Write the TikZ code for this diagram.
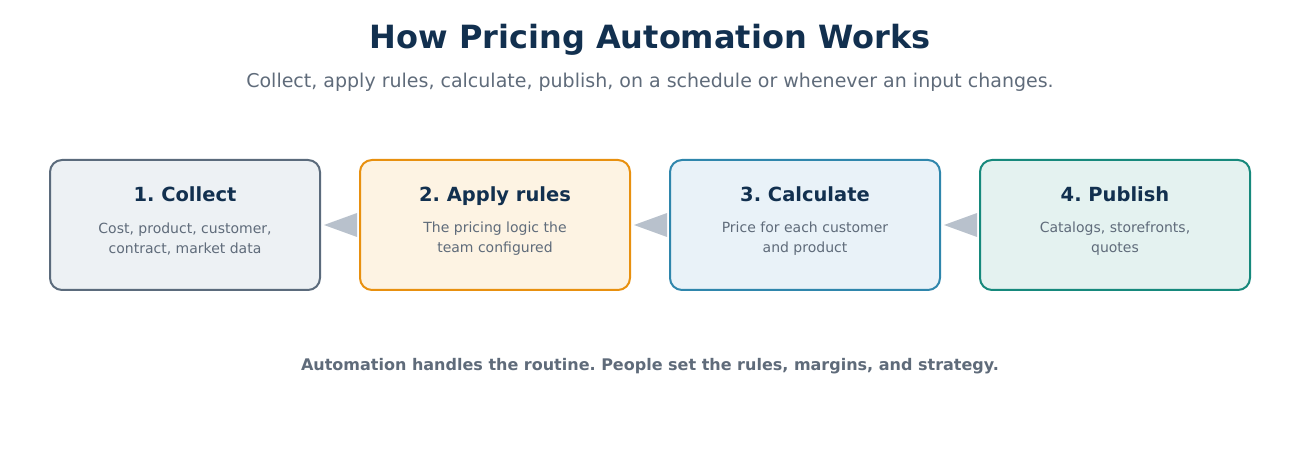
\documentclass[tikz,border=0pt]{standalone}
\usepackage{fontspec}
\setmainfont{DejaVu Sans}
\frenchspacing
\usetikzlibrary{calc}
\definecolor{navy}{HTML}{12304F}
\definecolor{slate}{HTML}{5F6B7A}
\definecolor{arrowgray}{HTML}{B8C1CC}
\definecolor{grayline}{HTML}{5B6B7C}
\definecolor{grayfill}{HTML}{EDF1F4}
\definecolor{orangeline}{HTML}{E8900F}
\definecolor{orangefill}{HTML}{FDF3E3}
\definecolor{blueline}{HTML}{2F86AC}
\definecolor{bluefill}{HTML}{E9F2F8}
\definecolor{tealline}{HTML}{16897C}
\definecolor{tealfill}{HTML}{E4F2F0}
\tikzset{
  stepbox/.style={draw, line width=1.5pt, rounded corners=9pt, minimum width=202.5pt, minimum height=97.5pt, inner sep=0pt},
  stephead/.style={anchor=base, text=navy, font=\fontsize{14.6}{18}\selectfont\bfseries},
  steptext/.style={text=slate, align=center, font=\fontsize{10.5}{15}\selectfont},
}
\begin{document}
\begin{tikzpicture}[x=0.75pt,y=0.75pt,yscale=-1,xscale=1]
            \useasboundingbox (0,0) rectangle (1300,470);
            \node[text=navy, font=\fontsize{24}{28}\selectfont\bfseries] (title) at (650,40) {How Pricing Automation Works};
            \node[text=slate, font=\fontsize{14.25}{17}\selectfont] (subtitle) at (650,82) {Collect, apply rules, calculate, publish, on a schedule or whenever an input changes.};
            \node[stepbox, draw=grayline, fill=grayfill] (collect) at (185,225) {};
            \node[stepbox, draw=orangeline, fill=orangefill] (rules) at (495,225) {};
            \node[stepbox, draw=blueline, fill=bluefill] (calc) at (805,225) {};
            \node[stepbox, draw=tealline, fill=tealfill] (publish) at (1115,225) {};
            \node[stephead] (collecth) at (185,201.5) {1. Collect};
            \node[steptext] (collectt) at (185,239) {Cost, product, customer,\\contract, market data};
            \node[stephead] (rulesh) at (495,201.5) {2. Apply rules};
            \node[steptext] (rulest) at (495,239) {The pricing logic the\\team configured};
            \node[stephead] (calch) at (805,201.5) {3. Calculate};
            \node[steptext] (calct) at (805,239) {Price for each customer\\and product};
            \node[stephead] (publishh) at (1115,201.5) {4. Publish};
            \node[steptext] (publisht) at (1115,239) {Catalogs, storefronts,\\quotes};
            % arrows between the steps
            \fill[arrowgray] ($(rules.west)+(-2,-12)$) -- ($(rules.west)+(-2,12)$) -- ($(collect.east)+(3,0)$) -- cycle;
            \fill[arrowgray] ($(calc.west)+(-2,-12)$) -- ($(calc.west)+(-2,12)$) -- ($(rules.east)+(3,0)$) -- cycle;
            \fill[arrowgray] ($(publish.west)+(-2,-12)$) -- ($(publish.west)+(-2,12)$) -- ($(calc.east)+(3,0)$) -- cycle;
            \node[text=slate, font=\fontsize{12}{14}\selectfont\bfseries] (footer) at (650,366) {Automation handles the routine. People set the rules, margins, and strategy.};
        \end{tikzpicture}
\end{document}
